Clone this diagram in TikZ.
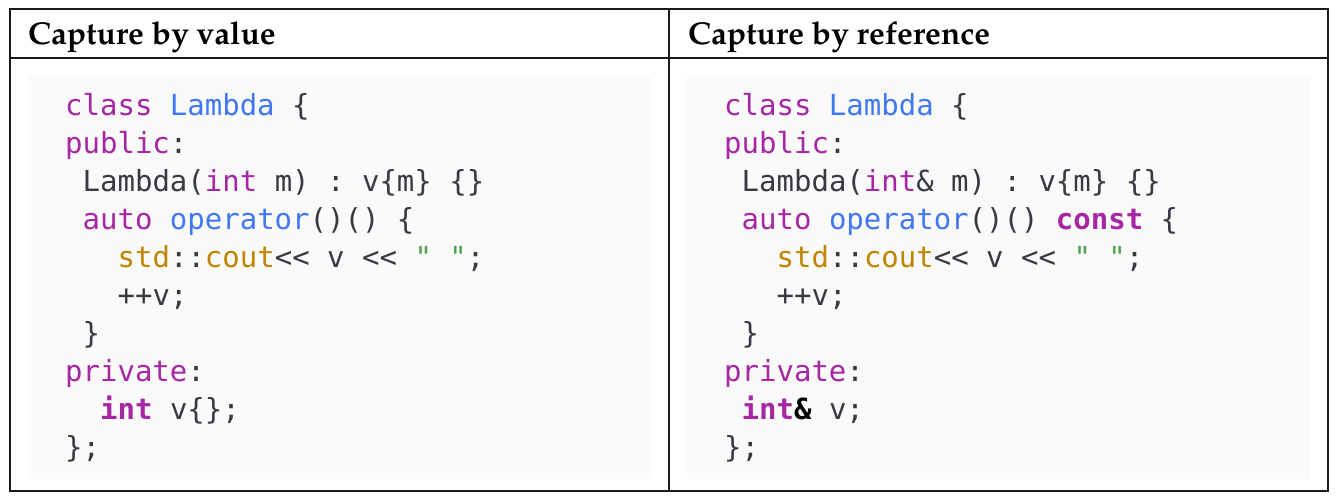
\documentclass[tikz,border=0pt]{standalone}
\usepackage{fontspec}
\setmonofont{DejaVu Sans Mono}
\definecolor{kwc}{HTML}{A626A4}
\definecolor{fnc}{HTML}{4078F2}
\definecolor{tyc}{HTML}{C18401}
\definecolor{stc}{HTML}{50A14F}
\definecolor{txc}{HTML}{383A42}
\definecolor{codebg}{HTML}{FAFAFA}
\definecolor{rulec}{HTML}{1A1A1A}
\newcommand\kw[1]{\textcolor{kwc}{#1}}
\newcommand\kwb[1]{\textcolor{kwc}{\bfseries #1}}
\newcommand\fn[1]{\textcolor{fnc}{#1}}
\newcommand\ty[1]{\textcolor{tyc}{#1}}
\newcommand\stlit[1]{\textcolor{stc}{#1}}
\tikzset{
  tbl/.style={draw=rulec, line width=2pt},
  hdr/.style={anchor=base west, inner sep=0pt, text=black,
    font={\fontencoding{OT1}\fontfamily{ppl}\fontseries{b}\fontsize{31.6}{36}\selectfont}},
  codeline/.style={anchor=base west, inner sep=0pt, text=txc,
    font={\ttfamily\fontsize{29}{29}\selectfont}},
}
\begin{document}
\begin{tikzpicture}[x=1pt,y=-1pt]
\useasboundingbox (0,0) rectangle (1338,503);
% code backgrounds
\fill[codebg] (28,77) rectangle (651,479);
\fill[codebg] (687,77) rectangle (1310,479);
% table rules
\coordinate (tl) at (10,9);
\coordinate (br) at (1328,491);
\coordinate (hl) at (10,58.5);
\coordinate (hr) at (1328,58.5);
\coordinate (vt) at (669,9);
\coordinate (vb) at (669,491);
\draw[tbl] (tl) rectangle (br);
\draw[tbl] (hl) -- (hr);
\draw[tbl] (vt) -- (vb);
% headers
\node[hdr] (h1) at (28,45) {Capture by value};
\node[hdr] (h2) at (688,45) {Capture by reference};
% left code
\node[codeline] (l1) at (65,115) {\kw{class} \fn{Lambda} \{};
\node[codeline] (l2) at (65,153) {\kw{public}:};
\node[codeline] (l3) at (82.5,191) {Lambda(\kw{int} m) : v\{m\} \{\}};
\node[codeline] (l4) at (82.5,229) {\kw{auto} \fn{operator}()() \{};
\node[codeline] (l5) at (117.5,267) {\ty{std}::\ty{cout}<< v << \stlit{" "};};
\node[codeline] (l6) at (117.5,305) {++v;};
\node[codeline] (l7) at (82.5,343) {\}};
\node[codeline] (l8) at (65,381) {\kw{private}:};
\node[codeline] (l9) at (100,419) {\kwb{int} v\{\};};
\node[codeline] (l10) at (65,457) {\};};
% right code
\node[codeline] (r1) at (724,115) {\kw{class} \fn{Lambda} \{};
\node[codeline] (r2) at (724,153) {\kw{public}:};
\node[codeline] (r3) at (741.5,191) {Lambda(\kw{int}\& m) : v\{m\} \{\}};
\node[codeline] (r4) at (741.5,229) {\kw{auto} \fn{operator}()() \kwb{const} \{};
\node[codeline] (r5) at (776.5,267) {\ty{std}::\ty{cout}<< v << \stlit{" "};};
\node[codeline] (r6) at (776.5,305) {++v;};
\node[codeline] (r7) at (741.5,343) {\}};
\node[codeline] (r8) at (724,381) {\kw{private}:};
\node[codeline] (r9) at (741.5,419) {\kwb{int}\textcolor{black}{\bfseries\&} v;};
\node[codeline] (r10) at (724,457) {\};};
\end{tikzpicture}
\end{document}
